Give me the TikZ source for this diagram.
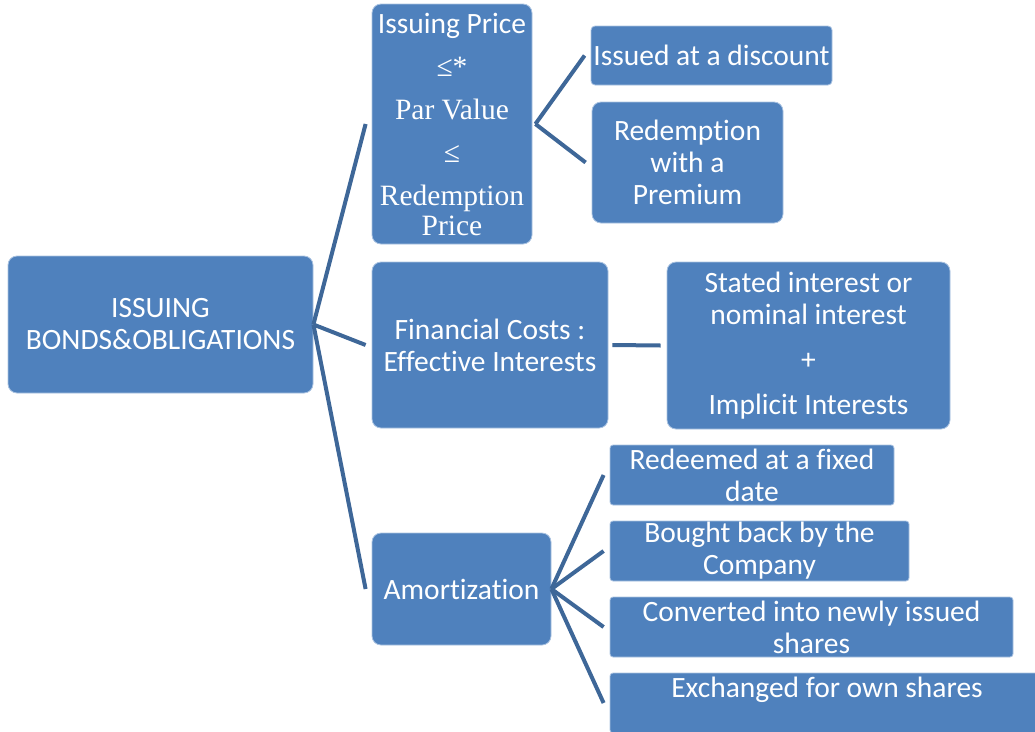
\documentclass[tikz,border=0pt]{standalone}
\usepackage{fontspec}
\setmainfont{Carlito}[Ligatures=NoCommon]
\newfontfamily\tnr{Liberation Serif}
\definecolor{boxblue}{RGB}{79,129,189}
\definecolor{lineblue}{RGB}{62,103,152}
\definecolor{edgeblue}{RGB}{170,195,225}
\begin{document}
\begin{tikzpicture}[x=1pt,y=-1pt,
  box/.style={draw=edgeblue, line width=0.8pt, fill=boxblue, text=white, align=center,
    inner sep=0pt, rounded corners=9pt, font=\fontsize{29.5}{32}\selectfont},
  slim/.style={box, rounded corners=3pt},
  conn/.style={draw=lineblue, line width=4pt}]
\useasboundingbox (0,0) rectangle (1035,731);
\clip (0,0) rectangle (1035,731);
\node[box, minimum width=305pt, minimum height=137pt] (root) at (160.5,324.5) {ISSUING\\BONDS\&OBLIGATIONS};
\node[box, minimum width=160pt, minimum height=240pt, font=\tnr\fontsize{29.5}{43}\selectfont] (ip) at (452,124)
  {{\rmfamily\fontsize{29.5}{43}\selectfont Issuing Price}\\ ≤*\\ Par Value\\ ≤\\ Redemption\\[-13pt] Price};
\node[box, minimum width=241pt, minimum height=59pt, rounded corners=4pt] (disc) at (711.5,55.5) {Issued at a discount};
\node[box, minimum width=191pt, minimum height=121pt] (prem) at (687.5,162.5) {Redemption\\with a\\Premium};
\node[box, minimum width=236pt, minimum height=166pt] (fin) at (490,345) {Financial Costs :\\Effective Interests};
\node[box, minimum width=283pt, minimum height=167pt] (stated) at (808.5,345.5) {Stated interest or\\nominal interest\\[13pt]+\\[13pt]Implicit Interests};
\node[box, minimum width=179pt, minimum height=112pt] (amort) at (461.5,589) {Amortization};
\node[slim, minimum width=284pt, minimum height=60pt] (red) at (752,475) {Redeemed at a fixed\\date};
\node[slim, minimum width=299pt, minimum height=60pt] (bought) at (759.5,551) {Bought back by the\\Company};
\node[slim, minimum width=403pt, minimum height=60pt] (conv) at (811.5,627) {Converted into newly issued\\shares};
\node[slim, minimum width=434pt, minimum height=60pt] (exch) at (827,703) {Exchanged for own shares\\\mbox{}};
\draw[conn] (root.east) -- ([xshift=-6pt]ip.west);
\draw[conn] (root.east) -- ([xshift=-6pt]fin.west);
\draw[conn] (root.east) -- ([xshift=-6pt]amort.west);
\draw[conn] ([xshift=3pt]ip.east) -- ([xshift=-6pt]disc.west);
\draw[conn] ([xshift=3pt]ip.east) -- ([xshift=-6pt]prem.west);
\draw[conn] ([xshift=4pt]fin.east) -- ([xshift=-6pt]stated.west);
\draw[conn] (amort.east) -- ([xshift=-6pt]red.west);
\draw[conn] (amort.east) -- ([xshift=-6pt]bought.west);
\draw[conn] (amort.east) -- ([xshift=-6pt]conv.west);
\draw[conn] (amort.east) -- ([xshift=-6pt]exch.west);
\end{tikzpicture}
\end{document}
